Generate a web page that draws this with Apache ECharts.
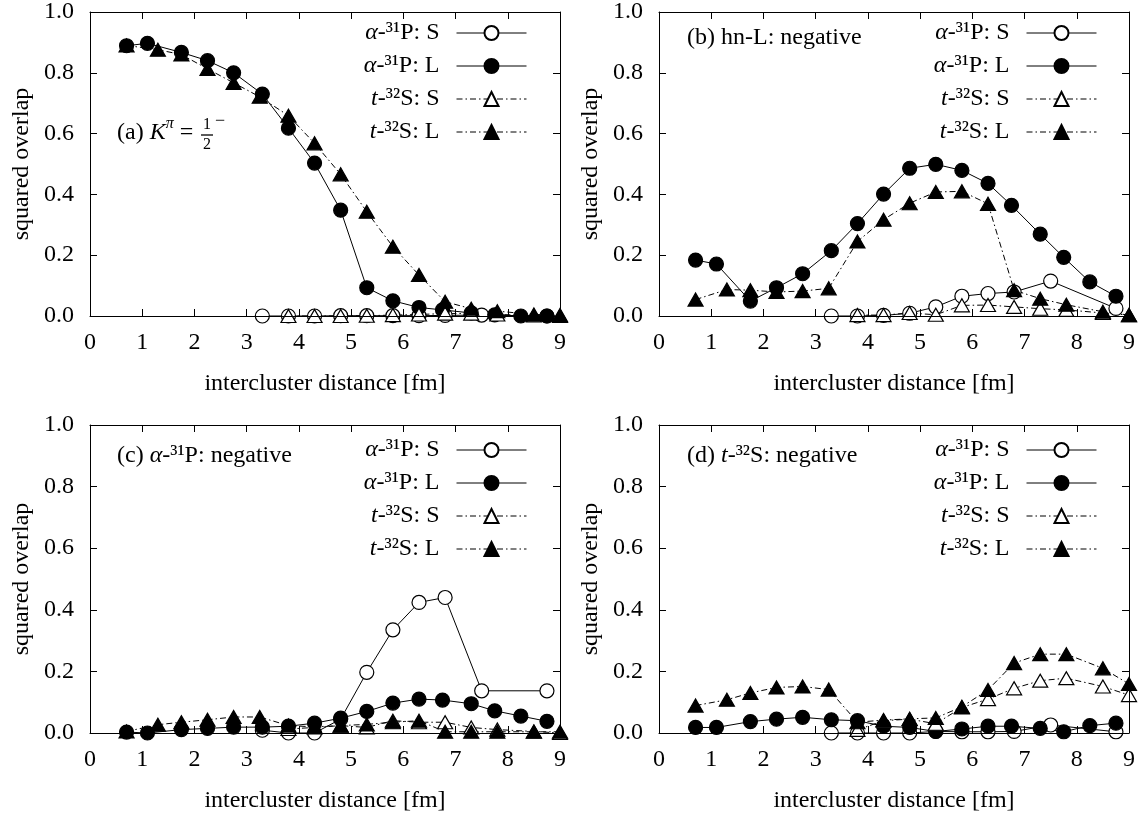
<!DOCTYPE html>
<html><head><meta charset="utf-8">
<script src="https://cdn.jsdelivr.net/npm/echarts@6/dist/echarts.min.js"></script>
<style>html,body{margin:0;padding:0;background:#fff}#c{width:1146px;height:818px}</style>
</head><body><div id="c"></div>
<script>
// ---- x positions (fm) ----
const xAlphaS  = [3.3, 3.8, 4.3, 4.8, 5.3, 5.8, 6.3, 6.8, 7.5, 8.75];
const xAlphaL  = [0.7, 1.1, 1.75, 2.25, 2.75, 3.3, 3.8, 4.3, 4.8, 5.3, 5.8, 6.3, 6.75, 7.3, 7.75, 8.25, 8.75];
const xTritonS = [3.8, 4.3, 4.8, 5.3, 5.8, 6.3, 6.8, 7.3, 7.8, 8.5, 9.0];
const xTritonL = [0.7, 1.3, 1.75, 2.25, 2.75, 3.25, 3.8, 4.3, 4.8, 5.3, 5.8, 6.3, 6.8, 7.3, 7.8, 8.5, 9.0];

// ---- panel (a) ----
const aAlphaS  = [0, 0, 0, 0.001, 0.001, 0.001, 0.001, 0.002, 0.003, 0];
const aAlphaL  = [0.889, 0.897, 0.867, 0.840, 0.800, 0.730, 0.618, 0.503, 0.348, 0.093, 0.050, 0.028, 0.020, 0.010, 0.004, 0.0, 0.0];
const aTritonS = [0.0, 0.0, 0.0, 0.001, 0.003, 0.005, 0.008, 0.008, 0.005, 0.002, 0.0];
const aTritonL = [0.890, 0.876, 0.860, 0.813, 0.767, 0.721, 0.659, 0.568, 0.466, 0.343, 0.228, 0.135, 0.047, 0.024, 0.016, 0.005, 0.003];
// ---- panel (b) ----
const bAlphaS  = [0.0, 0.0, 0.002, 0.009, 0.030, 0.065, 0.074, 0.079, 0.115, 0.025];
const bAlphaL  = [0.184, 0.171, 0.049, 0.093, 0.139, 0.215, 0.304, 0.401, 0.486, 0.499, 0.479, 0.436, 0.364, 0.269, 0.193, 0.112, 0.065];
const bTritonS = [0.003, 0.003, 0.010, 0.004, 0.035, 0.036, 0.030, 0.024, 0.020, 0.010, 0.003];
const bTritonL = [0.054, 0.087, 0.085, 0.079, 0.082, 0.091, 0.245, 0.317, 0.371, 0.408, 0.410, 0.369, 0.085, 0.057, 0.037, 0.014, 0.003];
// ---- panel (c) ----
const cAlphaS  = [0.009, 0.0, 0.0, 0.045, 0.197, 0.335, 0.424, 0.440, 0.137, 0.137];
const cAlphaL  = [0.003, 0.0, 0.011, 0.015, 0.019, 0.019, 0.022, 0.032, 0.048, 0.070, 0.097, 0.110, 0.107, 0.095, 0.072, 0.055, 0.038];
const cTritonS = [0.013, 0.018, 0.024, 0.018, 0.040, 0.035, 0.035, 0.018, 0.011, 0.005, 0.0];
const cTritonL = [0.005, 0.027, 0.035, 0.043, 0.052, 0.052, 0.024, 0.020, 0.024, 0.028, 0.035, 0.040, 0.004, 0.004, 0.004, 0.004, 0.004];
// ---- panel (d) ----
const dAlphaS  = [0.0, 0.0, 0.0, 0.0, 0.005, 0.004, 0.004, 0.005, 0.026, 0.004];
const dAlphaL  = [0.018, 0.018, 0.037, 0.045, 0.051, 0.043, 0.040, 0.022, 0.018, 0.005, 0.013, 0.022, 0.022, 0.015, 0.004, 0.024, 0.032];
const dTritonS = [0.010, 0.040, 0.045, 0.030, 0.083, 0.110, 0.145, 0.170, 0.178, 0.151, 0.123];
const dTritonL = [0.089, 0.108, 0.130, 0.148, 0.151, 0.141, 0.035, 0.042, 0.046, 0.049, 0.085, 0.140, 0.227, 0.256, 0.256, 0.210, 0.159];

// ---- names / labels ----
const seriesNames = ['α-³¹P: S', 'α-³¹P: L', 't-³²S: S', 't-³²S: L'];
const xTickLabels = ['0','1','2','3','4','5','6','7','8','9'];
const yTickLabels = ['0.0','0.2','0.4','0.6','0.8','1.0'];
const xName = 'intercluster distance [fm]';
const yName = 'squared overlap';

const panels = [
  [aAlphaS, aAlphaL, aTritonS, aTritonL],
  [bAlphaS, bAlphaL, bTritonS, bTritonL],
  [cAlphaS, cAlphaL, cTritonS, cTritonL],
  [dAlphaS, dAlphaL, dTritonS, dTritonL]
];
const xsFor = [xAlphaS, xAlphaL, xTritonS, xTritonL];

const FONT = '"Liberation Serif", "DejaVu Serif", serif';
const FS = 24;
const gridBoxes = [
  {left: 90, top: 8, width: 470, height: 308},
  {left: 659, top: 8, width: 470, height: 308},
  {left: 90, top: 425, width: 470, height: 308},
  {left: 659, top: 425, width: 470, height: 308}
];
const legendPos = [
  {right: 619, top: 21}, {right: 49, top: 21}, {right: 619, top: 438}, {right: 49, top: 438}
];
const dashDot = [6, 3, 1.5, 3];
const styles = [
  {symbol: 'circle', size: 14, fill: '#fff', dash: 'solid'},
  {symbol: 'circle', size: 14, fill: '#000', dash: 'solid'},
  {symbol: 'triangle', size: [15, 13], fill: '#fff', dash: dashDot},
  {symbol: 'triangle', size: [15, 13], fill: '#000', dash: dashDot}
];

const xAxes = [], yAxes = [], series = [], legends = [];
const lineBlack = {color: '#000', width: 1};
gridBoxes.forEach((g, p) => {
  xAxes.push({
    gridIndex: p, type: 'value', min: 0, max: 9, interval: 1, position: 'bottom', z: 10,
    axisLine: {show: true, onZero: false, lineStyle: lineBlack},
    axisTick: {show: true, inside: true, length: 7, lineStyle: lineBlack},
    axisLabel: {margin: 15, fontFamily: FONT, fontSize: FS, color: '#000',
      formatter: v => xTickLabels[Math.round(v)]},
    splitLine: {show: false},
    name: xName, nameLocation: 'middle', nameGap: 56,
    nameTextStyle: {fontFamily: FONT, fontSize: FS, color: '#000'}
  });
  xAxes.push({
    gridIndex: p, type: 'value', min: 0, max: 9, interval: 1, position: 'top', z: 10,
    axisLine: {show: true, onZero: false, lineStyle: lineBlack},
    axisTick: {show: true, inside: true, length: 7, lineStyle: lineBlack},
    axisLabel: {show: false}, splitLine: {show: false}
  });
  yAxes.push({
    gridIndex: p, type: 'value', min: 0, max: 1, interval: 0.2, position: 'left', z: 10,
    axisLine: {show: true, onZero: false, lineStyle: lineBlack},
    axisTick: {show: true, inside: true, length: 7, lineStyle: lineBlack},
    axisLabel: {margin: 16, fontFamily: FONT, fontSize: FS, color: '#000',
      formatter: v => yTickLabels[Math.round(v * 5)]},
    splitLine: {show: false},
    name: yName, nameLocation: 'middle', nameGap: 56, nameRotate: 90,
    nameTextStyle: {fontFamily: FONT, fontSize: FS, color: '#000'}
  });
  yAxes.push({
    gridIndex: p, type: 'value', min: 0, max: 1, interval: 0.2, position: 'right', z: 10,
    axisLine: {show: true, onZero: false, lineStyle: lineBlack},
    axisTick: {show: true, inside: true, length: 7, lineStyle: lineBlack},
    axisLabel: {show: false}, splitLine: {show: false}
  });
  panels[p].forEach((ys, s) => {
    const st = styles[s];
    series.push({
      type: 'line', name: seriesNames[s], xAxisIndex: 2 * p, yAxisIndex: 2 * p,
      data: xsFor[s].map((x, k) => [x, ys[k]]),
      symbol: st.symbol, symbolSize: st.size, showAllSymbol: true, clip: false,
      lineStyle: {color: '#000', width: 1, type: st.dash},
      itemStyle: {color: st.fill, borderColor: '#000', borderWidth: 1.2, opacity: 1},
      emphasis: {disabled: true}, animation: false, z: 2
    });
  });
  legends.push(Object.assign({
    orient: 'vertical', align: 'right', padding: 0,
    itemWidth: 70, itemHeight: 17.5, itemGap: 9, selectedMode: false,
    data: seriesNames,
    lineStyle: {width: 1},
    formatter: n => n.replace(/^(α|t)/, '{i|$1}') + '{g|}',
    textStyle: {fontFamily: FONT, fontSize: FS, color: '#000',
      rich: {i: {fontFamily: FONT, fontSize: FS, fontStyle: 'italic', color: '#000'},
             g: {width: 12}}}
  }, legendPos[p]));
});

const rich = {
  t: {fontFamily: FONT, fontSize: FS, color: '#000', lineHeight: 34},
  i: {fontFamily: FONT, fontSize: FS, fontStyle: 'italic', color: '#000', lineHeight: 34},
  s: {fontFamily: FONT, fontSize: 16, fontStyle: 'italic', color: '#000', verticalAlign: 'top'}
};
function label(x, y, txt) {
  return {type: 'text', x: x, y: y, z: 20,
    style: {text: txt, rich: rich, fontFamily: FONT, fontSize: FS, fill: '#000', verticalAlign: 'middle', align: 'left'}};
}
const graphics = [
  label(117, 133, '{t|(a) }{i|K}{s|π}{t| = }'),
  {type: 'text', x: 207, y: 125, z: 20, style: {text: '1', fontFamily: FONT, fontSize: 16, fill: '#000', align: 'center', verticalAlign: 'middle'}},
  {type: 'line', z: 20, shape: {x1: 201, y1: 135, x2: 213, y2: 135}, style: {stroke: '#000', lineWidth: 1.3}},
  {type: 'text', x: 207, y: 145, z: 20, style: {text: '2', fontFamily: FONT, fontSize: 16, fill: '#000', align: 'center', verticalAlign: 'middle'}},
  {type: 'text', x: 220, y: 121, z: 20, style: {text: '−', fontFamily: FONT, fontSize: 18, fill: '#000', align: 'center', verticalAlign: 'middle'}},
  label(687, 38, '{t|(b) hn-L: negative}'),
  label(117, 456, '{t|(c) }{i|α}{t|-³¹P: negative}'),
  label(687, 456, '{t|(d) }{i|t}{t|-³²S: negative}')
];

const chart = echarts.init(document.getElementById('c'), null, {renderer: 'canvas'});
chart.setOption({
  animation: false,
  backgroundColor: '#fff',
  grid: gridBoxes.map(g => Object.assign({containLabel: false}, g)),
  xAxis: xAxes, yAxis: yAxes, series: series, legend: legends, graphic: graphics
});
</script></body></html>
